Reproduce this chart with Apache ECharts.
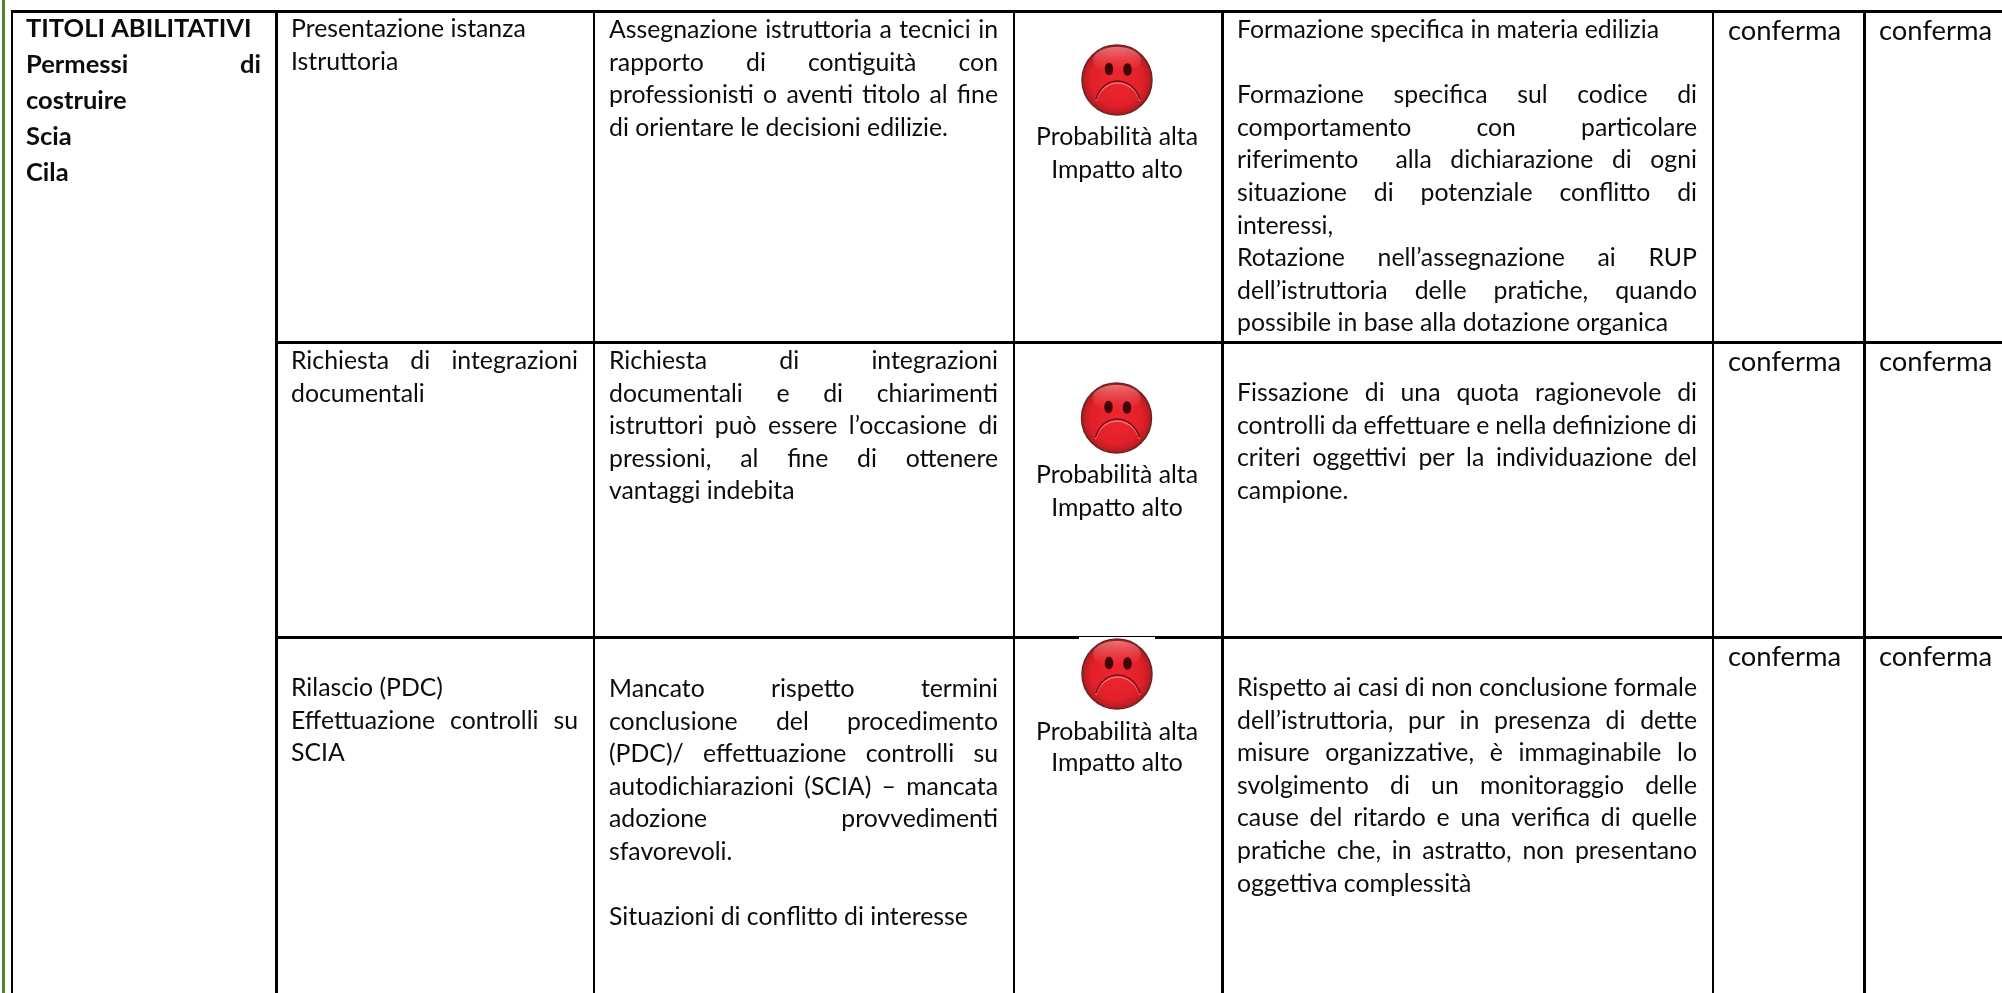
<!DOCTYPE html>
<html>
<head>
<meta charset="utf-8">
<title>Titoli abilitativi</title>
<style>
html,body{margin:0;padding:0;background:#fff;}
#main{width:2002px;height:993px;}
</style>
<script src="https://cdn.jsdelivr.net/npm/echarts@6/dist/echarts.min.js"></script>
</head>
<body>
<div id="main"></div>
<script>
// '|' at the end of a line = justified to the full column width
var areaLines = ['TITOLI ABILITATIVI', 'Permessi di|', 'costruire', 'Scia', 'Cila'];

var phaseLines = [
    ['Presentazione istanza', 'Istruttoria'],
    ['Richiesta di integrazioni|', 'documentali'],
    ['Rilascio (PDC)', 'Effettuazione controlli su|', 'SCIA']
];

var riskLines = [
    ['Assegnazione istruttoria a tecnici in|', 'rapporto di contiguità con|', 'professionisti o aventi titolo al fine|', 'di orientare le decisioni edilizie.'],
    ['Richiesta di integrazioni|', 'documentali e di chiarimenti|', 'istruttori può essere l’occasione di|', 'pressioni, al fine di ottenere|', 'vantaggi indebita'],
    ['Mancato rispetto termini|', 'conclusione del procedimento|', '(PDC)/ effettuazione controlli su|', 'autodichiarazioni (SCIA) – mancata|', 'adozione provvedimenti|', 'sfavorevoli.', '', 'Situazioni di conflitto di interesse']
];

var levelLines = ['Probabilità alta', 'Impatto alto'];

var measureLines = [
    ['Formazione specifica in materia edilizia', '', 'Formazione specifica sul codice di|', 'comportamento con particolare|', 'riferimento  alla dichiarazione di ogni|', 'situazione di potenziale conflitto di|', 'interessi,', 'Rotazione nell’assegnazione ai RUP|', 'dell’istruttoria delle pratiche, quando|', 'possibile in base alla dotazione organica'],
    ['Fissazione di una quota ragionevole di|', 'controlli da effettuare e nella definizione di|', 'criteri oggettivi per la individuazione del|', 'campione.'],
    ['Rispetto ai casi di non conclusione formale|', 'dell’istruttoria, pur in presenza di dette|', 'misure organizzative, è immaginabile lo|', 'svolgimento di un monitoraggio delle|', 'cause del ritardo e una verifica di quelle|', 'pratiche che, in astratto, non presentano|', 'oggettiva complessità']
];

var statusLabel = 'conferma';

// layout ----------------------------------------------------------
var W = 2002, H = 993;
var fontName = 'Lato';
var bodySize = 24.8, boldSize = 25.5, statusSize = 27.4;
var lineStep = 32.6;

var rowFirst = {
    phase: [29, 361, 688],
    risk: [30, 361, 689],
    level: [137, 475, 732],
    measure: [30, 393, 688],
    status: [31, 362, 657]
};
var levelStep = [33, 33, 31];
var faceCenters = [[1117, 80], [1116.5, 418], [1117, 674]];
var faceRadius = 35;

// x, y, width, height
var ruleRects = [
    [2, 0, 3, 993],
    [11, 10, 2, 983],
    [11, 10, 1991, 3],
    [275, 10, 3, 983],
    [593, 10, 2, 983],
    [1013, 10, 2, 983],
    [1221, 10, 3, 983],
    [1712, 10, 2, 983],
    [1863, 10, 3, 983],
    [275, 341, 1727, 3],
    [275, 636, 1727, 3]
];
var ruleColors = ['#548235'];
// the pasted picture of the third face covers part of the row line
var facePatch = [[1079, 637, 76, 3]];

var measureCanvas = document.createElement('canvas').getContext('2d');

function fontOf(size, weight) {
    return weight + ' ' + size + 'px ' + fontName;
}
function textWidth(str, size, weight) {
    measureCanvas.font = fontOf(size, weight);
    return measureCanvas.measureText(str).width;
}

// turn a line into words, spread out when it has to be justified
var words = [];
function addLine(line, left, right, y, size, weight) {
    if (!line) {
        return;
    }
    var just = line.charAt(line.length - 1) === '|';
    var clean = just ? line.slice(0, -1) : line;
    if (!just) {
        words.push({x: left, y: y, text: clean, size: size, weight: weight, align: 'left'});
        return;
    }
    var parts = clean.split(' ');
    var extra = (right - left - textWidth(clean, size, weight)) / (parts.length - 1);
    var space = textWidth(' ', size, weight);
    var x = left;
    for (var i = 0; i < parts.length; i++) {
        if (parts[i]) {
            words.push({x: x, y: y, text: parts[i], size: size, weight: weight, align: 'left'});
            x += textWidth(parts[i], size, weight);
        }
        x += space + extra;
    }
}
function addBlock(lines, left, right, y0, step, size, weight) {
    for (var i = 0; i < lines.length; i++) {
        addLine(lines[i], left, right, y0 + i * step, size, weight);
    }
}

addBlock(areaLines, 26, 261, 29, 36, boldSize, 'bold');
for (var r = 0; r < 3; r++) {
    addBlock(phaseLines[r], 291, 578, rowFirst.phase[r], lineStep, bodySize, 'normal');
    addBlock(riskLines[r], 609, 998, rowFirst.risk[r], lineStep, bodySize, 'normal');
    addBlock(measureLines[r], 1237, 1697, rowFirst.measure[r], lineStep, bodySize, 'normal');
    for (var k = 0; k < levelLines.length; k++) {
        words.push({x: 1117, y: rowFirst.level[r] + k * levelStep[r], text: levelLines[k], size: bodySize, weight: 'normal', align: 'center'});
    }
    addLine(statusLabel, 1728, 1840, rowFirst.status[r], statusSize, 'normal');
    addLine(statusLabel, 1879, 1992, rowFirst.status[r], statusSize, 'normal');
}

function rectItem(params, api) {
    var p = api.coord([api.value(0), api.value(1)]);
    var q = api.coord([api.value(0) + api.value(2), api.value(1) + api.value(3)]);
    return {
        type: 'rect',
        shape: {x: p[0], y: p[1], width: q[0] - p[0], height: q[1] - p[1]},
        style: {fill: params.dataIndex === 0 ? ruleColors[0] : '#000'}
    };
}

function wordItem(params, api) {
    var w = words[params.dataIndex];
    var p = api.coord([api.value(0), api.value(1)]);
    return {
        type: 'text',
        x: p[0],
        y: p[1],
        style: {
            text: w.text,
            fill: '#0c0c0c',
            font: fontOf(w.size, w.weight),
            align: w.align,
            verticalAlign: 'middle'
        }
    };
}

function faceItem(params, api) {
    var c = api.coord([api.value(0), api.value(1)]);
    var R = faceRadius;
    return {
        type: 'group',
        x: c[0],
        y: c[1],
        children: [
            {type: 'circle', shape: {cx: 0, cy: 0, r: R}, style: {
                fill: {type: 'radial', x: 0.5, y: 0.5, r: 0.5, colorStops: [
                    {offset: 0, color: '#ee2630'},
                    {offset: 0.72, color: '#e2202a'},
                    {offset: 0.92, color: '#bd1c22'},
                    {offset: 1, color: '#8c1a1c'}
                ]},
                stroke: '#6e2222',
                lineWidth: 1.5
            }},
            {type: 'ellipse', shape: {cx: 0, cy: -20, rx: 24, ry: 13}, style: {
                fill: {type: 'linear', x: 0, y: 0, x2: 0, y2: 1, colorStops: [
                    {offset: 0, color: 'rgba(255,190,190,0.55)'},
                    {offset: 1, color: 'rgba(255,80,80,0)'}
                ]}
            }},
            {type: 'ellipse', shape: {cx: -8, cy: -11, rx: 4.2, ry: 6.2}, style: {fill: '#3d0508'}},
            {type: 'ellipse', shape: {cx: 10.5, cy: -10.5, rx: 4.2, ry: 6.2}, style: {fill: '#3d0508'}},
            {type: 'bezierCurve', shape: {x1: -21, y1: 21, cpx1: -14, cpy1: -3, cpx2: 15, cpy2: -3, x2: 23, y2: 21}, style: {fill: 'none', stroke: 'rgba(255,150,150,0.7)', lineWidth: 1.5}},
            {type: 'bezierCurve', shape: {x1: -21, y1: 19.5, cpx1: -14, cpy1: -5, cpx2: 15, cpy2: -5, x2: 23, y2: 19.5}, style: {fill: 'none', stroke: '#7c1216', lineWidth: 1.6}}
        ]
    };
}

var myChart = echarts.init(document.getElementById('main'));
var option = {
    backgroundColor: '#fff',
    animation: false,
    grid: {left: 0, right: 0, top: 0, bottom: 0},
    xAxis: {type: 'value', min: 0, max: W, show: false},
    yAxis: {type: 'value', min: 0, max: H, inverse: true, show: false},
    tooltip: {show: false},
    series: [
        {
            name: 'righe',
            type: 'custom',
            coordinateSystem: 'cartesian2d',
            clip: false,
            silent: true,
            renderItem: rectItem,
            data: ruleRects
        },
        {
            name: 'patch',
            type: 'custom',
            coordinateSystem: 'cartesian2d',
            clip: false,
            silent: true,
            renderItem: function (params, api) {
                var el = rectItem(params, api);
                el.style = {fill: '#fff'};
                return el;
            },
            data: facePatch
        },
        {
            name: 'faccine',
            type: 'custom',
            coordinateSystem: 'cartesian2d',
            clip: false,
            silent: true,
            renderItem: faceItem,
            data: faceCenters
        },
        {
            name: 'testo',
            type: 'custom',
            coordinateSystem: 'cartesian2d',
            clip: false,
            silent: true,
            renderItem: wordItem,
            data: words.map(function (w) { return [w.x, w.y]; })
        }
    ]
};
myChart.setOption(option);
</script>
</body>
</html>
